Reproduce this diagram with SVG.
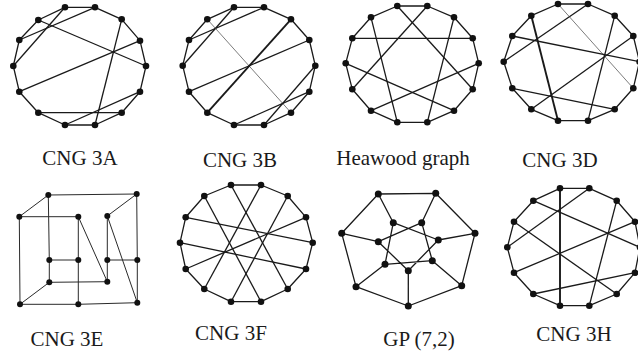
<svg xmlns="http://www.w3.org/2000/svg" width="638" height="360" viewBox="0 0 638 360">
<style>
.e{fill:none;stroke:#1a1a1a;stroke-width:1.3;stroke-linejoin:round}
.tk{stroke-width:1.9}
.tn{stroke-width:0.7;stroke:#444}
.e5{fill:none;stroke:#2a2a2a;stroke-width:1}
.n circle{fill:#111}
text{font-family:"Liberation Serif","Times New Roman",serif;font-size:21px;fill:#1a1a1a;text-anchor:middle}
</style>
<rect width="638" height="360" fill="#fff"/>

<!-- connectors -->
<g id="connectors">
 <!-- CNG 3A -->
 <polygon class="e" points="65,7.3 95,7.3 121.7,19.3 140,40.7 146,66 140,91.7 121.7,112.7 95,125 65,125 38.3,112.7 19.3,91.7 13.3,66 19.3,40 38.3,20"/>
 <line class="e" x1="65" y1="7.3" x2="13.3" y2="66"/>
 <line class="e" x1="95" y1="7.3" x2="19.3" y2="40"/>
 <line class="e" x1="38.3" y1="20" x2="146" y2="66"/>
 <line class="e" x1="121.7" y1="19.3" x2="95" y2="125"/>
 <line class="e" x1="19.3" y1="91.7" x2="140" y2="40.7"/>
 <line class="e" x1="38.3" y1="112.7" x2="121.7" y2="112.7"/>
 <line class="e" x1="65" y1="125" x2="140" y2="91.7"/>
 <!-- CNG 3B -->
 <polygon class="e" points="234,7.3 264,7.3 291,19.3 309.3,40 315.3,65.7 309.3,91.7 291,112.7 264,125 234,125 207.3,112.7 189,91.7 182.7,65.7 189,40 207.3,19.3"/>
 <line class="e" x1="234" y1="7.3" x2="182.7" y2="65.7"/>
 <line class="e" x1="264" y1="7.3" x2="189" y2="40"/>
 <line class="e tn" x1="207.3" y1="19.3" x2="291" y2="112.7"/>
 <line class="e tk" x1="291" y1="19.3" x2="207.3" y2="112.7"/>
 <line class="e" x1="309.3" y1="40" x2="189" y2="91.7"/>
 <line class="e" x1="315.3" y1="65.7" x2="264" y2="125"/>
 <line class="e" x1="309.3" y1="91.7" x2="234" y2="125"/>
 <!-- Heawood -->
 <polygon class="e" points="397.3,6 427.3,6 454,17.3 472.7,38.3 478.7,63.3 472.7,89.3 454,110.7 427.3,122.3 397.3,122.3 371,110.7 352.3,89.3 345.7,63.3 352.3,38.3 371,17.3"/>
 <line class="e" x1="352.3" y1="38.3" x2="472.7" y2="38.3"/>
 <line class="e" x1="397.3" y1="6" x2="472.7" y2="89.3"/>
 <line class="e" x1="427.3" y1="6" x2="352.3" y2="89.3"/>
 <line class="e" x1="371" y1="17.3" x2="397.3" y2="122.3"/>
 <line class="e" x1="454" y1="17.3" x2="427.3" y2="122.3"/>
 <line class="e" x1="345.7" y1="63.3" x2="454" y2="110.7"/>
 <line class="e" x1="478.7" y1="63.3" x2="371" y2="110.7"/>
 <!-- CNG 3D -->
 <polygon class="e" points="558,4 588,4 614.7,15.7 633.3,36 639.5,61.7 633.3,88.3 614.7,109.3 588,120.7 558,120.7 531.3,109.3 512.3,88.3 503.7,61.7 512.3,36 531.3,15.7"/>
 <line class="e tk" x1="531.3" y1="15.7" x2="558" y2="120.7"/>
 <line class="e" x1="588" y1="4" x2="503.7" y2="61.7"/>
 <line class="e tn" x1="558" y1="4" x2="633.3" y2="88.3"/>
 <line class="e" x1="614.7" y1="15.7" x2="588" y2="120.7"/>
 <line class="e" x1="512.3" y1="36" x2="639.5" y2="61.7"/>
 <line class="e" x1="512.3" y1="88.3" x2="614.7" y2="109.3"/>
 <line class="e" x1="633.3" y1="36" x2="531.3" y2="109.3"/>
 <!-- CNG 3E -->
 <path class="e5" d="M48.3,195 L136.7,194 M48.3,195 L19.3,216.7 M48.3,195 L49.3,260 M136.7,194 L107.3,216 M136.7,194 L137.3,260 M19.3,216.7 L78.3,216.7 M19.3,216.7 L20,304.3 M78.3,216.7 L78.3,260 M78.3,216.7 L107.3,281.7 M107.3,216 L107.3,260 M107.3,216 L137.3,302.7 M49.3,260 L78.3,260 M49.3,260 L49.3,282.3 M78.3,260 L78.3,304.3 M107.3,260 L137.3,260 M107.3,260 L107.3,281.7 M137.3,260 L137.3,302.7 M49.3,282.3 L107.3,281.7 M49.3,282.3 L20,304.3 M20,304.3 L78.3,304.3 M78.3,304.3 L137.3,302.7"/>
 <!-- CNG 3F -->
 <polygon class="e" points="231,185 261,185 287.7,196 306,217.3 312.7,242.7 306,269 287.7,289 261,301.7 231,301.7 204.3,289 185.7,269 180,242.7 185.7,217.3 204.3,196"/>
 <line class="e" x1="231" y1="185" x2="287.7" y2="289"/>
 <line class="e" x1="204.3" y1="196" x2="261" y2="301.7"/>
 <line class="e" x1="261" y1="185" x2="204.3" y2="289"/>
 <line class="e" x1="287.7" y1="196" x2="231" y2="301.7"/>
 <line class="e" x1="185.7" y1="217.3" x2="312.7" y2="242.7"/>
 <line class="e" x1="306" y1="217.3" x2="185.7" y2="269"/>
 <line class="e" x1="180" y1="242.7" x2="306" y2="269"/>
 <!-- GP (7,2) -->
 <polygon class="e" points="378.3,194 435.7,193.3 475,233.3 461.7,285.7 408.3,306 356,286.7 341.7,233.3"/>
 <path class="e" d="M378.3,194 L393.3,222.7 M435.7,193.3 L421.7,222.7 M475,233.3 L438.3,240 M461.7,285.7 L432.3,260.7 M408.3,306 L408.3,270.7 M356,286.7 L385,264.3 M341.7,233.3 L378.3,241.7"/>
 <polygon class="e" points="393.3,222.7 438.3,240 408.3,270.7 378.3,241.7 421.7,222.7 432.3,260.7 385,264.3"/>
 <!-- CNG 3H -->
 <polygon class="e" points="560,188.3 589.3,188.3 616.7,200.7 635,221.7 640,247.3 635,272.7 616.7,294 589.3,305.7 560,305.7 533.3,294 514,272.7 507.3,247.3 514,221.7 533.3,200.7"/>
 <line class="e tk" x1="560" y1="188.3" x2="560" y2="305.7"/>
 <line class="e" x1="589.3" y1="188.3" x2="507.3" y2="247.3"/>
 <line class="e" x1="533.3" y1="200.7" x2="640" y2="247.3"/>
 <line class="e" x1="514" y1="221.7" x2="616.7" y2="294"/>
 <line class="e" x1="635" y1="221.7" x2="514" y2="272.7"/>
 <line class="e" x1="616.7" y1="200.7" x2="589.3" y2="305.7"/>
 <line class="e" x1="635" y1="272.7" x2="533.3" y2="294"/>
</g>

<!-- nodes -->
<g class="n">
 <g id="A0"><circle cx="65" cy="7.3" r="3.3"/></g>
 <g id="A1"><circle cx="95" cy="7.3" r="3.3"/></g>
 <g id="A2"><circle cx="121.7" cy="19.3" r="3.3"/></g>
 <g id="A3"><circle cx="140" cy="40.7" r="3.3"/></g>
 <g id="A4"><circle cx="146" cy="66" r="3.3"/></g>
 <g id="A5"><circle cx="140" cy="91.7" r="3.3"/></g>
 <g id="A6"><circle cx="121.7" cy="112.7" r="3.3"/></g>
 <g id="A7"><circle cx="95" cy="125" r="3.3"/></g>
 <g id="A8"><circle cx="65" cy="125" r="3.3"/></g>
 <g id="A9"><circle cx="38.3" cy="112.7" r="3.3"/></g>
 <g id="A10"><circle cx="19.3" cy="91.7" r="3.3"/></g>
 <g id="A11"><circle cx="13.3" cy="66" r="3.3"/></g>
 <g id="A12"><circle cx="19.3" cy="40" r="3.3"/></g>
 <g id="A13"><circle cx="38.3" cy="20" r="3.3"/></g>

 <g id="B0"><circle cx="234" cy="7.3" r="3.3"/></g>
 <g id="B1"><circle cx="264" cy="7.3" r="3.3"/></g>
 <g id="B2"><circle cx="291" cy="19.3" r="3.3"/></g>
 <g id="B3"><circle cx="309.3" cy="40" r="3.3"/></g>
 <g id="B4"><circle cx="315.3" cy="65.7" r="3.3"/></g>
 <g id="B5"><circle cx="309.3" cy="91.7" r="3.3"/></g>
 <g id="B6"><circle cx="291" cy="112.7" r="3.3"/></g>
 <g id="B7"><circle cx="264" cy="125" r="3.3"/></g>
 <g id="B8"><circle cx="234" cy="125" r="3.3"/></g>
 <g id="B9"><circle cx="207.3" cy="112.7" r="3.3"/></g>
 <g id="B10"><circle cx="189" cy="91.7" r="3.3"/></g>
 <g id="B11"><circle cx="182.7" cy="65.7" r="3.3"/></g>
 <g id="B12"><circle cx="189" cy="40" r="3.3"/></g>
 <g id="B13"><circle cx="207.3" cy="19.3" r="3.3"/></g>

 <g id="C0"><circle cx="397.3" cy="6" r="3.3"/></g>
 <g id="C1"><circle cx="427.3" cy="6" r="3.3"/></g>
 <g id="C2"><circle cx="454" cy="17.3" r="3.3"/></g>
 <g id="C3"><circle cx="472.7" cy="38.3" r="3.3"/></g>
 <g id="C4"><circle cx="478.7" cy="63.3" r="3.3"/></g>
 <g id="C5"><circle cx="472.7" cy="89.3" r="3.3"/></g>
 <g id="C6"><circle cx="454" cy="110.7" r="3.3"/></g>
 <g id="C7"><circle cx="427.3" cy="122.3" r="3.3"/></g>
 <g id="C8"><circle cx="397.3" cy="122.3" r="3.3"/></g>
 <g id="C9"><circle cx="371" cy="110.7" r="3.3"/></g>
 <g id="C10"><circle cx="352.3" cy="89.3" r="3.3"/></g>
 <g id="C11"><circle cx="345.7" cy="63.3" r="3.3"/></g>
 <g id="C12"><circle cx="352.3" cy="38.3" r="3.3"/></g>
 <g id="C13"><circle cx="371" cy="17.3" r="3.3"/></g>

 <g id="D0"><circle cx="558" cy="4" r="3.3"/></g>
 <g id="D1"><circle cx="588" cy="4" r="3.3"/></g>
 <g id="D2"><circle cx="614.7" cy="15.7" r="3.3"/></g>
 <g id="D3"><circle cx="633.3" cy="36" r="3.3"/></g>
 <g id="D4"><circle cx="639.5" cy="61.7" r="3.3"/></g>
 <g id="D5"><circle cx="633.3" cy="88.3" r="3.3"/></g>
 <g id="D6"><circle cx="614.7" cy="109.3" r="3.3"/></g>
 <g id="D7"><circle cx="588" cy="120.7" r="3.3"/></g>
 <g id="D8"><circle cx="558" cy="120.7" r="3.3"/></g>
 <g id="D9"><circle cx="531.3" cy="109.3" r="3.3"/></g>
 <g id="D10"><circle cx="512.3" cy="88.3" r="3.3"/></g>
 <g id="D11"><circle cx="503.7" cy="61.7" r="3.3"/></g>
 <g id="D12"><circle cx="512.3" cy="36" r="3.3"/></g>
 <g id="D13"><circle cx="531.3" cy="15.7" r="3.3"/></g>

 <g id="E1"><circle cx="48.3" cy="195" r="3"/></g>
 <g id="E2"><circle cx="136.7" cy="194" r="3"/></g>
 <g id="E3"><circle cx="19.3" cy="216.7" r="3"/></g>
 <g id="E4"><circle cx="78.3" cy="216.7" r="3"/></g>
 <g id="E5"><circle cx="107.3" cy="216" r="3"/></g>
 <g id="E6"><circle cx="49.3" cy="260" r="3"/></g>
 <g id="E7"><circle cx="78.3" cy="260" r="3"/></g>
 <g id="E8"><circle cx="107.3" cy="260" r="3"/></g>
 <g id="E9"><circle cx="137.3" cy="260" r="3"/></g>
 <g id="E10"><circle cx="49.3" cy="282.3" r="3"/></g>
 <g id="E11"><circle cx="107.3" cy="281.7" r="3"/></g>
 <g id="E12"><circle cx="20" cy="304.3" r="3"/></g>
 <g id="E13"><circle cx="78.3" cy="304.3" r="3"/></g>
 <g id="E14"><circle cx="137.3" cy="302.7" r="3"/></g>

 <g id="F0"><circle cx="231" cy="185" r="3.3"/></g>
 <g id="F1"><circle cx="261" cy="185" r="3.3"/></g>
 <g id="F2"><circle cx="287.7" cy="196" r="3.3"/></g>
 <g id="F3"><circle cx="306" cy="217.3" r="3.3"/></g>
 <g id="F4"><circle cx="312.7" cy="242.7" r="3.3"/></g>
 <g id="F5"><circle cx="306" cy="269" r="3.3"/></g>
 <g id="F6"><circle cx="287.7" cy="289" r="3.3"/></g>
 <g id="F7"><circle cx="261" cy="301.7" r="3.3"/></g>
 <g id="F8"><circle cx="231" cy="301.7" r="3.3"/></g>
 <g id="F9"><circle cx="204.3" cy="289" r="3.3"/></g>
 <g id="F10"><circle cx="185.7" cy="269" r="3.3"/></g>
 <g id="F11"><circle cx="180" cy="242.7" r="3.3"/></g>
 <g id="F12"><circle cx="185.7" cy="217.3" r="3.3"/></g>
 <g id="F13"><circle cx="204.3" cy="196" r="3.3"/></g>

 <g id="G0"><circle cx="378.3" cy="194" r="3.5"/></g>
 <g id="G1"><circle cx="435.7" cy="193.3" r="3.5"/></g>
 <g id="G2"><circle cx="475" cy="233.3" r="3.5"/></g>
 <g id="G3"><circle cx="461.7" cy="285.7" r="3.5"/></g>
 <g id="G4"><circle cx="408.3" cy="306" r="3.5"/></g>
 <g id="G5"><circle cx="356" cy="286.7" r="3.5"/></g>
 <g id="G6"><circle cx="341.7" cy="233.3" r="3.5"/></g>
 <g id="G7"><circle cx="393.3" cy="222.7" r="3.5"/></g>
 <g id="G8"><circle cx="421.7" cy="222.7" r="3.5"/></g>
 <g id="G9"><circle cx="438.3" cy="240" r="3.5"/></g>
 <g id="G10"><circle cx="432.3" cy="260.7" r="3.5"/></g>
 <g id="G11"><circle cx="408.3" cy="270.7" r="3.5"/></g>
 <g id="G12"><circle cx="385" cy="264.3" r="3.5"/></g>
 <g id="G13"><circle cx="378.3" cy="241.7" r="3.5"/></g>

 <g id="H0"><circle cx="560" cy="188.3" r="3.3"/></g>
 <g id="H1"><circle cx="589.3" cy="188.3" r="3.3"/></g>
 <g id="H2"><circle cx="616.7" cy="200.7" r="3.3"/></g>
 <g id="H3"><circle cx="635" cy="221.7" r="3.3"/></g>
 <g id="H4"><circle cx="640" cy="247.3" r="3.3"/></g>
 <g id="H5"><circle cx="635" cy="272.7" r="3.3"/></g>
 <g id="H6"><circle cx="616.7" cy="294" r="3.3"/></g>
 <g id="H7"><circle cx="589.3" cy="305.7" r="3.3"/></g>
 <g id="H8"><circle cx="560" cy="305.7" r="3.3"/></g>
 <g id="H9"><circle cx="533.3" cy="294" r="3.3"/></g>
 <g id="H10"><circle cx="514" cy="272.7" r="3.3"/></g>
 <g id="H11"><circle cx="507.3" cy="247.3" r="3.3"/></g>
 <g id="H12"><circle cx="514" cy="221.7" r="3.3"/></g>
 <g id="H13"><circle cx="533.3" cy="200.7" r="3.3"/></g>
</g>

<!-- labels -->
<g id="labels">
 <text x="80" y="165">CNG 3A</text>
 <text x="240" y="167">CNG 3B</text>
 <text x="403" y="165">Heawood graph</text>
 <text x="560" y="167">CNG 3D</text>
 <text x="67" y="346">CNG 3E</text>
 <text x="231" y="340">CNG 3F</text>
 <text x="419" y="346">GP (7,2)</text>
 <text x="574" y="341">CNG 3H</text>
</g>
</svg>
